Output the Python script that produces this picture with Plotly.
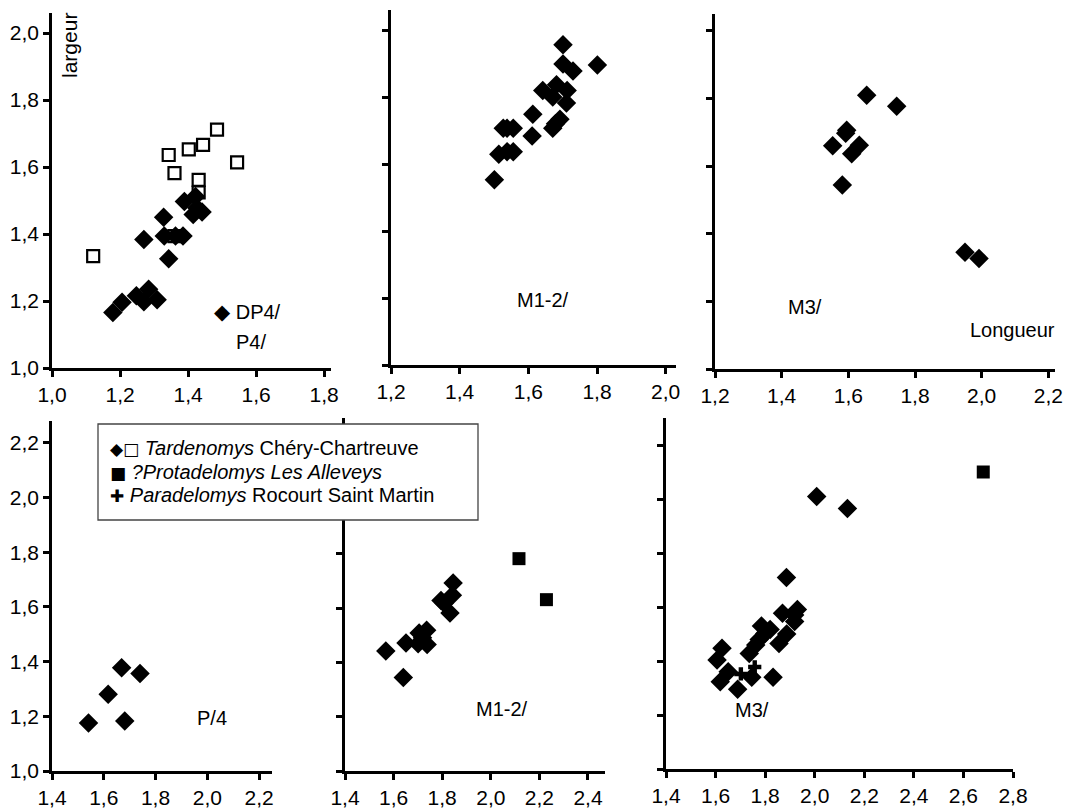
import plotly.graph_objects as go

W, H = 1069, 811

# ---------------- data (longueur, largeur) ----------------
# Top-left: DP4/ (filled diamonds) and P4/ (open squares)
tl_dia_x = [1.179, 1.206, 1.248, 1.270, 1.284, 1.309, 1.270, 1.328, 1.330, 1.343, 1.363, 1.385, 1.389, 1.415, 1.422, 1.426, 1.441]
tl_dia_y = [1.166, 1.196, 1.216, 1.198, 1.235, 1.204, 1.384, 1.450, 1.394, 1.326, 1.394, 1.394, 1.497, 1.458, 1.512, 1.478, 1.466]
tl_sq_x = [1.121, 1.343, 1.360, 1.360, 1.402, 1.444, 1.485, 1.431, 1.431, 1.544]
tl_sq_y = [1.334, 1.636, 1.582, 1.394, 1.653, 1.666, 1.712, 1.562, 1.524, 1.614]

# Top-middle: M1-2/
tm_x = [1.701, 1.701, 1.730, 1.801, 1.642, 1.682, 1.713, 1.671, 1.711, 1.613, 1.611, 1.692, 1.671, 1.679, 1.527, 1.538, 1.556, 1.514, 1.538, 1.556, 1.501]
tm_y = [1.956, 1.899, 1.878, 1.896, 1.820, 1.837, 1.820, 1.800, 1.782, 1.749, 1.684, 1.734, 1.707, 1.720, 1.707, 1.707, 1.707, 1.629, 1.637, 1.637, 1.553]

# Top-right: M3/
tr_x = [1.655, 1.745, 1.595, 1.592, 1.553, 1.633, 1.610, 1.582, 1.950, 1.992]
tr_y = [1.810, 1.777, 1.706, 1.697, 1.660, 1.662, 1.637, 1.544, 1.345, 1.327]

# Bottom-left: P/4
bl_x = [1.541, 1.617, 1.669, 1.740, 1.681]
bl_y = [1.176, 1.281, 1.378, 1.357, 1.183]

# Bottom-middle: M1-2/
bm_dia_x = [1.568, 1.651, 1.640, 1.705, 1.701, 1.736, 1.738, 1.719, 1.795, 1.808, 1.832, 1.842, 1.845]
bm_dia_y = [1.442, 1.471, 1.344, 1.508, 1.469, 1.518, 1.466, 1.491, 1.628, 1.618, 1.582, 1.647, 1.692]
bm_sq_x = [2.116, 2.229]
bm_sq_y = [1.782, 1.631]

# Bottom-right: M3/
br_dia_x = [2.008, 2.132, 1.886, 1.930, 1.919, 1.870, 1.919, 1.887, 1.856, 1.785, 1.820, 1.799, 1.776, 1.762, 1.736, 1.626, 1.606, 1.651, 1.619, 1.689, 1.746, 1.832]
br_dia_y = [2.009, 1.965, 1.709, 1.591, 1.570, 1.577, 1.546, 1.500, 1.465, 1.530, 1.517, 1.502, 1.480, 1.459, 1.428, 1.447, 1.404, 1.360, 1.323, 1.295, 1.340, 1.340]
br_cross_x = [1.702, 1.758]
br_cross_y = [1.352, 1.378]
br_sq_x = [2.68]
br_sq_y = [2.10]

# tick values
ticks_top_left_x = [1.0, 1.2, 1.4, 1.6, 1.8]
ticks_top_mid_x = [1.2, 1.4, 1.6, 1.8, 2.0]
ticks_top_right_x = [1.2, 1.4, 1.6, 1.8, 2.0, 2.2]
ticks_top_y = [1.0, 1.2, 1.4, 1.6, 1.8, 2.0]
ticks_bl_x = [1.4, 1.6, 1.8, 2.0, 2.2]
ticks_bm_x = [1.4, 1.6, 1.8, 2.0, 2.2, 2.4]
ticks_br_x = [1.4, 1.6, 1.8, 2.0, 2.2, 2.4, 2.6, 2.8]
ticks_bot_y = [1.0, 1.2, 1.4, 1.6, 1.8, 2.0, 2.2]

FONT = "Liberation Sans, Arial, sans-serif"

def fx(px):
    return px / W

def fy(py):
    return 1 - py / H

# panel geometry in pixels: (left, right), (top, bottom), ranges
panels = [
    ("1", (52, 331), (13, 368), [1.0, 1.82], [1.0, 2.06], ticks_top_left_x, ticks_top_y, True),
    ("2", (391, 676), (10, 365), [1.2, 2.03], [1.0, 2.06], ticks_top_mid_x, ticks_top_y, False),
    ("3", (715, 1055), (14, 369), [1.2, 2.22], [1.0, 2.05], ticks_top_right_x, ticks_top_y, False),
    ("4", (52, 272), (421, 771), [1.4, 2.25], [1.0, 2.28], ticks_bl_x, ticks_bot_y, True),
    ("5", (345, 605), (418, 771), [1.4, 2.47], [1.0, 2.3], ticks_bm_x, ticks_bot_y, False),
    ("6", (666, 1013), (418, 769), [1.4, 2.8], [1.0, 2.3], ticks_br_x, ticks_bot_y, False),
]

fig = go.Figure()
layout = dict(
    width=W, height=H,
    margin=dict(l=0, r=0, t=0, b=0),
    paper_bgcolor="white", plot_bgcolor="rgba(0,0,0,0)",
    showlegend=False,
    separators=",.",
    font=dict(family=FONT, size=20, color="black"),
)

for name, (xl, xr), (yt, yb), xr_, yr_, xt, yt_, showy in panels:
    xa = "xaxis" if name == "1" else "xaxis" + name
    ya = "yaxis" if name == "1" else "yaxis" + name
    xref = "x" if name == "1" else "x" + name
    yref = "y" if name == "1" else "y" + name
    layout[xa] = dict(
        domain=[fx(xl), fx(xr)], range=xr_, anchor=yref, automargin=False,
        showline=True, linecolor="black", linewidth=2.5,
        ticks="outside", ticklen=6, tickwidth=2.5, tickcolor="black",
        tickvals=xt, tickformat=".1f", showgrid=False, zeroline=False,
        tickfont=dict(family=FONT, size=21, color="black"),
    )
    layout[ya] = dict(
        domain=[fy(yb), fy(yt)], range=yr_, anchor=xref, automargin=False,
        showline=True, linecolor="black", linewidth=2.5,
        ticks="outside", ticklen=6, tickwidth=2.5, tickcolor="black",
        tickvals=yt_, tickformat=".1f", showgrid=False, zeroline=False,
        showticklabels=showy,
        tickfont=dict(family=FONT, size=21, color="black"),
    )

fig.update_layout(**layout)

DIA = dict(symbol="diamond", size=15, color="black", line=dict(width=0))
SQ_OPEN = dict(symbol="square-open", size=12, color="black", line=dict(width=2.2))
SQ = dict(symbol="square", size=13, color="black", line=dict(width=0))
CROSS = dict(symbol="cross", size=11, color="black", line=dict(width=0))

def add(x, y, marker, ref):
    xa = "x" if ref == "1" else "x" + ref
    ya = "y" if ref == "1" else "y" + ref
    fig.add_trace(go.Scatter(x=x, y=y, mode="markers", marker=marker, xaxis=xa, yaxis=ya, hoverinfo="x+y"))

add(tl_sq_x, tl_sq_y, SQ_OPEN, "1")
add(tl_dia_x, tl_dia_y, DIA, "1")
add(tm_x, tm_y, DIA, "2")
add(tr_x, tr_y, DIA, "3")
add(bl_x, bl_y, DIA, "4")
add(bm_dia_x, bm_dia_y, DIA, "5")
add(bm_sq_x, bm_sq_y, SQ, "5")
add(br_dia_x, br_dia_y, DIA, "6")
add(br_cross_x, br_cross_y, CROSS, "6")
add(br_sq_x, br_sq_y, SQ, "6")

ann = []

def txt(px, py, text, size=20, angle=0, xanchor="center", family=FONT):
    ann.append(dict(x=fx(px), y=fy(py), xref="paper", yref="paper", text=text,
                    showarrow=False, xanchor=xanchor, yanchor="middle", textangle=angle,
                    font=dict(family=family, size=size, color="black")))

txt(70, 46, "largeur", size=21, angle=-90)
txt(212, 312, "<span style='font-family:DejaVu Sans;font-size:21px'>◆</span> DP4/", xanchor="left")
txt(234, 342, "P4/", xanchor="left")
txt(543, 300, "M1-2/")
txt(805, 307, "M3/")
txt(1012, 330, "Longueur")
txt(212, 718, "P/4")
txt(502, 709, "M1-2/")
txt(752, 710, "M3/")

# legend box (drawn)
fig.add_shape(type="rect", xref="paper", yref="paper",
              x0=fx(98), x1=fx(478), y0=fy(520), y1=fy(424),
              line=dict(color="#444", width=1.3), fillcolor="white", layer="above")
leg_lines = [
    (448, "<span style='font-family:DejaVu Sans;font-size:17px'>◆□</span> <i>Tardenomys</i> Chéry-Chartreuve"),
    (472, "<span style='font-family:DejaVu Sans;font-size:17px'>■</span> <i>?Protadelomys Les Alleveys</i>"),
    (495, "<span style='font-family:DejaVu Sans;font-size:17px'>✚</span> <i>Paradelomys</i> Rocourt Saint Martin"),
]
for py, t in leg_lines:
    txt(108, py, t, size=20, xanchor="left")

fig.update_layout(annotations=ann)
fig.write_html(
    "out.html",
    config={"displayModeBar": False},
    post_script="document.body.style.margin='0px';document.body.style.overflow='hidden';",
)
